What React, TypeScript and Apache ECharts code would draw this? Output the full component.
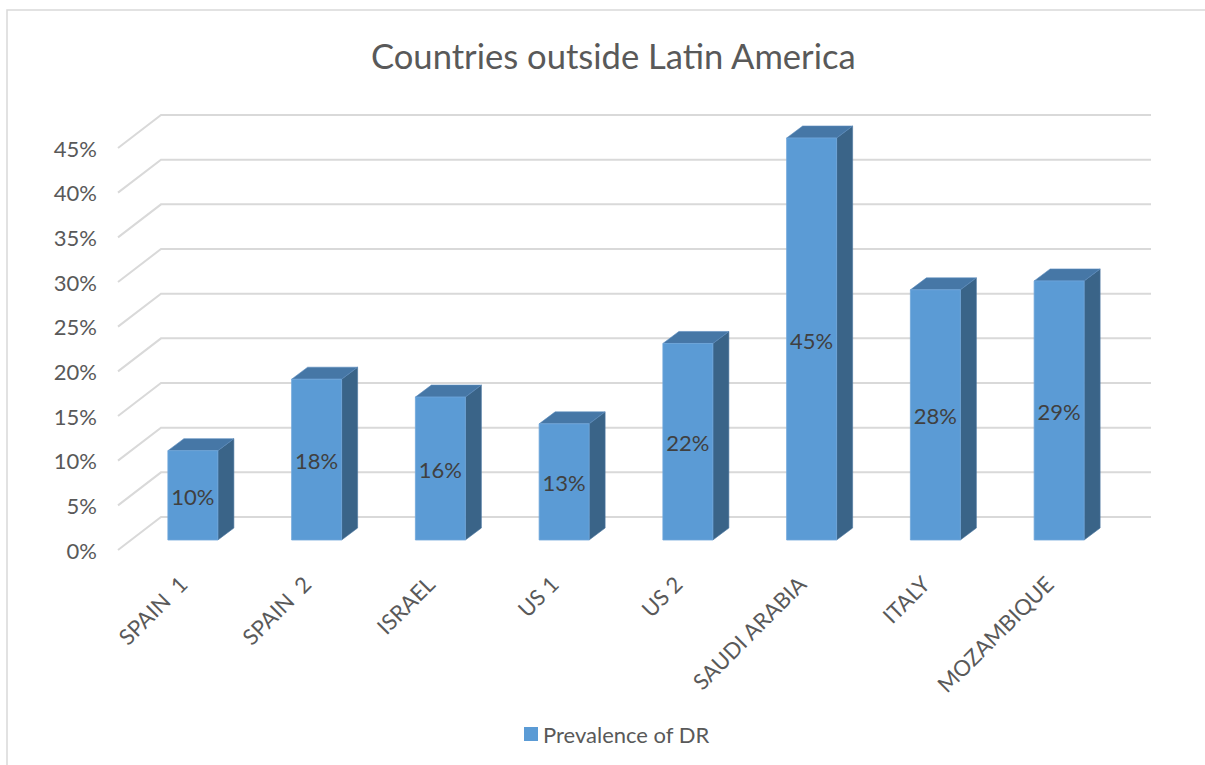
import React, { useEffect, useRef } from "react";
import * as echarts from "echarts";

const categories = ["SPAIN  1", "SPAIN  2", "ISRAEL", "US 1", "US 2", "SAUDI ARABIA", "ITALY", "MOZAMBIQUE"];
const prevalence = [0.10, 0.18, 0.16, 0.13, 0.22, 0.45, 0.28, 0.29];
const yTicks = [0, 0.05, 0.1, 0.15, 0.2, 0.25, 0.3, 0.35, 0.4, 0.45];
const seriesName = "Prevalence of DR";
const title = "Countries outside Latin America";

const FONT = "Lato, 'Noto Sans', sans-serif";
const TXT = "#595959";

export default function App() {
  const ref = useRef<HTMLDivElement>(null);
  useEffect(() => {
    if (!ref.current) return;
    const chart = echarts.init(ref.current, undefined, { renderer: "svg" });
    // depth offsets (projection of the 3D box)
    const FX = 13, FY = 10; // bar plane -> front plane
    const BX = 30, BY = 23; // bar plane -> back wall
    const DX = 16, DY = 12; // bar depth
    const option: any = {
      animation: false,
      backgroundColor: "#ffffff",
      title: {
        text: title,
        left: 366,
        top: 33,
        textStyle: { fontFamily: FONT, fontSize: 34.6, fontWeight: "normal", color: TXT },
      },
      legend: {
        data: [seriesName],
        left: 519,
        top: 718,
        icon: "rect",
        itemWidth: 14,
        itemHeight: 14,
        itemGap: 10,
        textStyle: { fontFamily: FONT, fontSize: 22, color: TXT },
      },
      graphic: [
        {
          type: "rect",
          shape: { x: 7, y: 10, width: 1400, height: 900 },
          style: { fill: "none", stroke: "#D9D9D9", lineWidth: 1.5 },
          silent: true,
          z: -10,
        },
      ],
      grid: [
        { left: 131, right: 84, top: 138, bottom: 225 },
        { left: 118, right: 97, top: 148, bottom: 215 },
      ],
      xAxis: [
        {
          type: "category",
          gridIndex: 0,
          data: categories,
          axisLine: { show: false },
          axisTick: { show: false },
          axisLabel: {
            rotate: 45,
            margin: 30,
            interval: 0,
            padding: [0, 14, 0, 0],
            fontFamily: FONT,
            fontSize: 22,
            color: TXT,
          },
        },
        { type: "value", gridIndex: 1, show: false, min: 0, max: 1 },
      ],
      yAxis: [
        {
          type: "value",
          gridIndex: 0,
          min: 0,
          max: 0.45,
          interval: 0.05,
          show: false,
          splitLine: { show: false },
        },
        {
          type: "value",
          gridIndex: 1,
          min: 0,
          max: 0.45,
          interval: 0.05,
          axisLine: { show: false },
          axisTick: { show: false },
          splitLine: { show: false },
          axisLabel: {
            margin: 21,
            fontFamily: FONT,
            fontSize: 22,
            color: TXT,
            formatter: (v: number) => Math.round(v * 100) + "%",
          },
        },
      ],
      series: [
        {
          type: "custom",
          name: "grid",
          xAxisIndex: 0,
          yAxisIndex: 0,
          silent: true,
          data: yTicks.map((v) => [0, v]),
          renderItem: (params: any, api: any) => {
            const cs = params.coordSys;
            const y = api.coord([0, api.value(1)])[1];
            const left = cs.x;
            const right = cs.x + cs.width;
            return {
              type: "polyline",
              shape: {
                points: [
                  [left - FX, y + FY],
                  [left + BX, y - BY],
                  [right + BX, y - BY],
                ],
              },
              style: { fill: "none", stroke: "#D9D9D9", lineWidth: 2 },
              z2: 0,
            };
          },
          z: 1,
        },
        {
          type: "custom",
          name: seriesName,
          xAxisIndex: 0,
          yAxisIndex: 0,
          itemStyle: { color: "#5B9BD5" },
          data: prevalence.map((v, i) => [i, v]),
          renderItem: (params: any, api: any) => {
            const i = api.value(0);
            const v = api.value(1);
            const base = api.coord([i, 0]);
            const top = api.coord([i, v]);
            const w = api.size([1, 0])[0] * 0.404;
            const xl = base[0] - w / 2;
            const xr = base[0] + w / 2;
            const yb = base[1];
            const yt = top[1];
            return {
              type: "group",
              children: [
                {
                  type: "polygon",
                  shape: {
                    points: [
                      [xr, yt],
                      [xr + DX, yt - DY],
                      [xr + DX, yb - DY],
                      [xr, yb],
                    ],
                  },
                  style: { fill: "#3A6488", stroke: "#4A76A0", lineWidth: 0.6 },
                },
                {
                  type: "polygon",
                  shape: {
                    points: [
                      [xl, yt],
                      [xr, yt],
                      [xr + DX, yt - DY],
                      [xl + DX, yt - DY],
                    ],
                  },
                  style: { fill: "#4677A6", stroke: "#5A8CBD", lineWidth: 0.6 },
                },
                {
                  type: "rect",
                  shape: { x: xl, y: yt, width: w, height: yb - yt },
                  style: { fill: "#5B9BD5", stroke: "#6FA6DA", lineWidth: 0.8 },
                },
                {
                  type: "text",
                  style: {
                    text: Math.round(v * 100) + "%",
                    x: (xl + xr) / 2,
                    y: (yt + yb) / 2 + 1,
                    align: "center",
                    verticalAlign: "middle",
                    fontFamily: FONT,
                    fontSize: 22,
                    fill: "#404040",
                  },
                },
              ],
            };
          },
          z: 2,
        },
      ],
    };
    chart.setOption(option);
    return () => chart.dispose();
  }, []);
  return (
    <div
      ref={ref}
      style={{ position: "fixed", left: 0, top: 0, width: 1205, height: 765, background: "#fff" }}
    />
  );
}
